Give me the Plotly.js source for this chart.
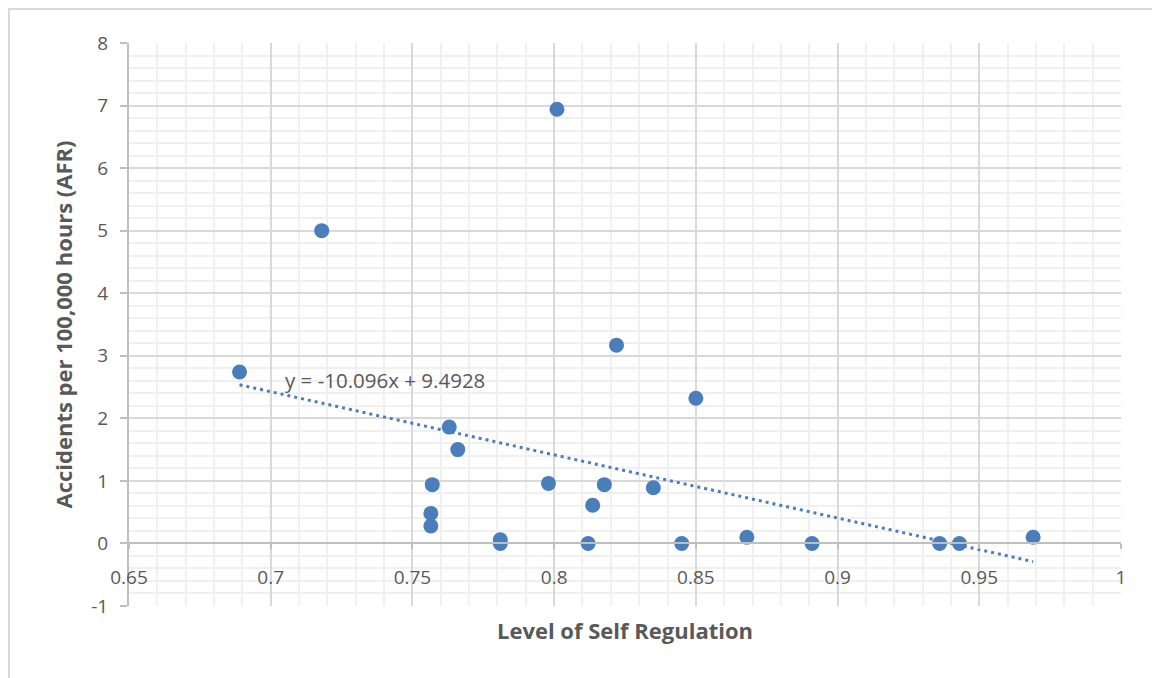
<!DOCTYPE html>
<html>
<head>
<meta charset="utf-8">
<script src="https://cdn.plot.ly/plotly-3.0.1.min.js"></script>
<style>
  html, body { margin: 0; padding: 0; background: #fff; }
  #wrap { position: relative; width: 1152px; height: 678px; overflow: hidden; }
  #chart { width: 1152px; height: 678px; }
  #frame { position: absolute; left: 8px; top: 8px; right: -4px; bottom: -4px;
           border-left: 2px solid #d9d9d9; border-top: 2px solid #d9d9d9; pointer-events: none; }
</style>
</head>
<body>
<div id="wrap">
  <div id="chart"></div>
  <div id="frame"></div>
</div>
<script>
// Level of Self Regulation (x) vs Accidents per 100,000 hours (y)
const selfRegulation = [0.689, 0.718, 0.801, 0.822, 0.850, 0.763, 0.766, 0.757, 0.7565, 0.7565,
                        0.781, 0.781, 0.798, 0.8177, 0.8136, 0.835, 0.812, 0.845, 0.868, 0.891,
                        0.936, 0.943, 0.969];
const accidentRate   = [2.74, 5.00, 6.94, 3.17, 2.32, 1.86, 1.50, 0.94, 0.48, 0.28,
                        0.06, 0.00, 0.96, 0.94, 0.61, 0.89, 0.00, 0.00, 0.10, 0.00,
                        0.00, 0.00, 0.10];
// Linear trendline as reported on the chart
const trendSlope = -10.096;
const trendIntercept = 9.4928;
const trendLabel = "y = -10.096x + 9.4928";

const xTicks = [0.65, 0.7, 0.75, 0.8, 0.85, 0.9, 0.95, 1];
const xTickText = ["0.65", "0.7", "0.75", "0.8", "0.85", "0.9", "0.95", "1"];
const yTicks = [-1, 0, 1, 2, 3, 4, 5, 6, 7, 8];
const yTickText = ["-1", "0", "1", "2", "3", "4", "5", "6", "7", "8"];

const xMin = Math.min(...selfRegulation), xMax = Math.max(...selfRegulation);
const trendX = [xMin, xMax];
const trendY = trendX.map(v => trendSlope * v + trendIntercept);

// minor grid positions (every 0.01 / 0.2, skipping the major ones)
const xMinor = [];
for (let k = 1; k < 35; k++) if (k % 5 !== 0) xMinor.push(+(0.65 + k * 0.01).toFixed(2));
const yMinor = [];
for (let k = 1; k < 45; k++) if (k % 5 !== 0) yMinor.push(+(-1 + k * 0.2).toFixed(1));

const blue = '#4a7ebb';
const textColor = '#595959';
const font = '"Open Sans", Lato, sans-serif';

const traces = [
  {
    x: trendX, y: trendY, type: 'scatter', mode: 'lines',
    line: { color: blue, width: 3, dash: '3px,4px' }, hoverinfo: 'skip', showlegend: false
  },
  {
    x: selfRegulation, y: accidentRate, type: 'scatter', mode: 'markers',
    marker: { color: blue, size: 15 }, showlegend: false
  }
];

const layout = {
  width: 1152, height: 678,
  margin: { l: 129, r: 31, t: 43, b: 72 },
  paper_bgcolor: '#fff', plot_bgcolor: '#fff',
  font: { family: font, color: textColor, size: 19 },
  showlegend: false,
  xaxis: {
    range: [0.65, 1], tickmode: 'array', tickvals: xTicks, ticktext: xTickText,
    showgrid: true, gridcolor: '#d9d9d9', gridwidth: 2,
    minor: { tickmode: 'array', tickvals: xMinor, showgrid: true, gridcolor: '#f0f0f0', gridwidth: 2, ticks: '' },
    zeroline: false, showline: true, linecolor: '#bfbfbf', linewidth: 2,
    anchor: 'free', position: 1 / 9,
    ticks: 'outside', ticklen: 5, tickcolor: '#bfbfbf', tickwidth: 2, ticklabelstandoff: 12,
    tickfont: { size: 19, color: textColor, family: font },
    title: { text: '' }
  },
  yaxis: {
    range: [-1, 8], tickmode: 'array', tickvals: yTicks, ticktext: yTickText,
    showgrid: true, gridcolor: '#d9d9d9', gridwidth: 2,
    minor: { tickmode: 'array', tickvals: yMinor, showgrid: true, gridcolor: '#f0f0f0', gridwidth: 2, ticks: '' },
    zeroline: false, showline: true, linecolor: '#bfbfbf', linewidth: 2,
    ticks: 'outside', ticklen: 7, tickcolor: '#bfbfbf', tickwidth: 2, ticklabelstandoff: 8,
    tickfont: { size: 19, color: textColor, family: font },
    title: { text: 'Accidents per 100,000 hours (AFR)', font: { size: 22, color: textColor, family: font, weight: 'bold' }, standoff: 13 }
  },
  annotations: [
    { x: 0.7404, y: 2.62, xref: 'x', yref: 'y', text: trendLabel, showarrow: false,
      font: { size: 20.5, color: textColor, family: font } },
    { x: 0.5, y: -0.0426, xref: 'paper', yref: 'paper', xanchor: 'center', yanchor: 'middle',
      text: '<b>Level of Self Regulation</b>', showarrow: false,
      font: { size: 22, color: textColor, family: font } }
  ]
};

Plotly.newPlot('chart', traces, layout, { displayModeBar: false, staticPlot: true });
</script>
</body>
</html>
